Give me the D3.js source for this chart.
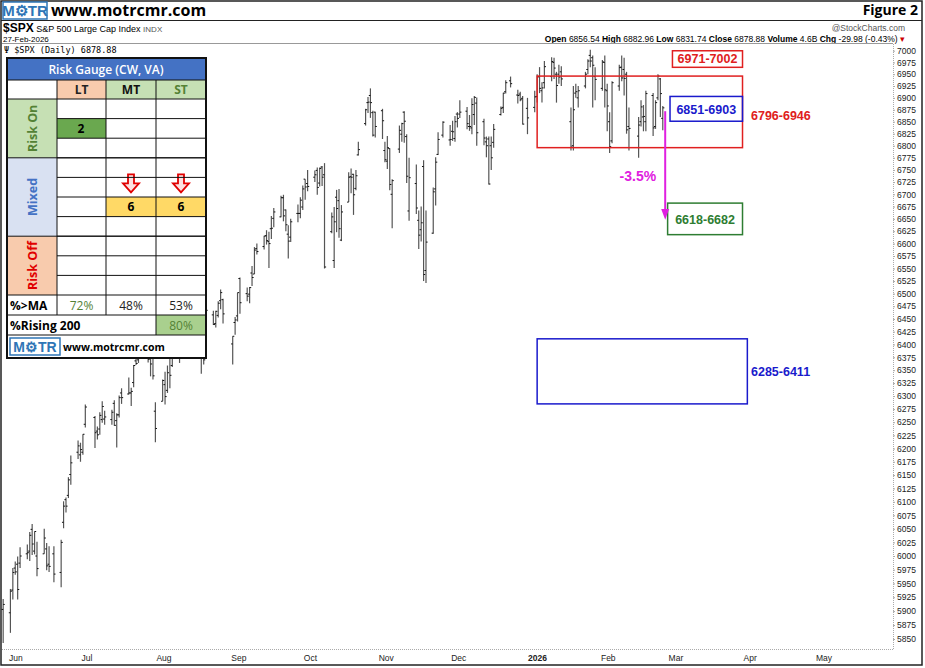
<!DOCTYPE html>
<html><head><meta charset="utf-8">
<script src="https://cdn.jsdelivr.net/npm/d3@7/dist/d3.min.js"></script>
<style>body{margin:0;background:#fff}svg{display:block}</style>
</head><body><svg id="c" width="925" height="668"></svg>
<script>
const dates=["2025-05-30","2025-06-02","2025-06-03","2025-06-04","2025-06-05","2025-06-06","2025-06-09","2025-06-10","2025-06-11","2025-06-12","2025-06-13","2025-06-16","2025-06-17","2025-06-18","2025-06-20","2025-06-23","2025-06-24","2025-06-25","2025-06-26","2025-06-27","2025-06-30",
"2025-07-01","2025-07-02","2025-07-03","2025-07-07","2025-07-08","2025-07-09","2025-07-10","2025-07-11","2025-07-14","2025-07-15","2025-07-16","2025-07-17","2025-07-18","2025-07-21","2025-07-22","2025-07-23","2025-07-24","2025-07-25","2025-07-28","2025-07-29","2025-07-30","2025-07-31",
"2025-08-01","2025-08-04","2025-08-05","2025-08-06","2025-08-07","2025-08-08","2025-08-11","2025-08-12","2025-08-13","2025-08-14","2025-08-15","2025-08-18","2025-08-19","2025-08-20","2025-08-21","2025-08-22","2025-08-25","2025-08-26","2025-08-27","2025-08-28","2025-08-29",
"2025-09-02","2025-09-03","2025-09-04","2025-09-05","2025-09-08","2025-09-09","2025-09-10","2025-09-11","2025-09-12","2025-09-15","2025-09-16","2025-09-17","2025-09-18","2025-09-19","2025-09-22","2025-09-23","2025-09-24","2025-09-25","2025-09-26","2025-09-29","2025-09-30",
"2025-10-01","2025-10-02","2025-10-03","2025-10-06","2025-10-07","2025-10-08","2025-10-09","2025-10-10","2025-10-13","2025-10-14","2025-10-15","2025-10-16","2025-10-17","2025-10-20","2025-10-21","2025-10-22","2025-10-23","2025-10-24","2025-10-27","2025-10-28","2025-10-29","2025-10-30","2025-10-31",
"2025-11-03","2025-11-04","2025-11-05","2025-11-06","2025-11-07","2025-11-10","2025-11-11","2025-11-12","2025-11-13","2025-11-14","2025-11-17","2025-11-18","2025-11-19","2025-11-20","2025-11-21","2025-11-24","2025-11-25","2025-11-26","2025-11-28",
"2025-12-01","2025-12-02","2025-12-03","2025-12-04","2025-12-05","2025-12-08","2025-12-09","2025-12-10","2025-12-11","2025-12-12","2025-12-15","2025-12-16","2025-12-17","2025-12-18","2025-12-19","2025-12-22","2025-12-23","2025-12-24","2025-12-26","2025-12-29","2025-12-30","2025-12-31",
"2026-01-02","2026-01-05","2026-01-06","2026-01-07","2026-01-08","2026-01-09","2026-01-12","2026-01-13","2026-01-14","2026-01-15","2026-01-16","2026-01-20","2026-01-21","2026-01-22","2026-01-23","2026-01-26","2026-01-27","2026-01-28","2026-01-29","2026-01-30",
"2026-02-02","2026-02-03","2026-02-04","2026-02-05","2026-02-06","2026-02-09","2026-02-10","2026-02-11","2026-02-12","2026-02-13","2026-02-17","2026-02-18","2026-02-19","2026-02-20","2026-02-23","2026-02-24","2026-02-25","2026-02-26","2026-02-27"];
const opens=[5903,5897,5938,5978,5985,5987,6004,6009,6049,6009,6000,6004,6013,5985,6004,5970,6062,6104,6112,6151,6193,
6188,6193,6246,6259,6233,6237,6255,6256,6255,6286,6253,6264,6306,6304,6306,6326,6368,6370,6397,6399,6376,6428,
6271,6290,6322,6311,6374,6359,6389,6395,6459,6451,6478,6445,6446,6408,6386,6386,6458,6441,6457,6486,6488,
6401,6443,6456,6530,6500,6499,6541,6539,6590,6594,6616,6604,6630,6651,6654,6693,6668,6619,6613,6661,6661,
6674,6731,6722,6735,6749,6723,6756,6740,6624,6566,6694,6687,6607,6684,6736,6741,6712,6781,6846,6890,6905,6869,6870,
6873,6790,6768,6794,6700,6793,6824,6870,6819,6666,6722,6647,6628,6757,6546,6621,6711,6782,6822,
6812,6830,6815,6866,6866,6872,6840,6837,6865,6889,6850,6808,6814,6800,6807,6865,6880,6913,6936,6906,6908,6899,
6878,6880,6903,6945,6915,6932,6945,6975,6950,6950,6955,6850,6800,6910,6900,6925,6960,6990,6985,6945,
6920,6975,6915,6850,6810,6925,6965,6960,6950,6840,6820,6850,6860,6850,6905,6840,6900,6940,6857];
const highs=[5922,5940,5978,5990,5999,6016,6021,6044,6059,6045,6026,6050,6024,6018,6018,6030,6101,6108,6146,6187,6215,
6211,6227,6284,6262,6242,6269,6290,6272,6274,6292,6267,6301,6315,6336,6316,6360,6381,6390,6397,6409,6394,6428,
6288,6332,6347,6359,6382,6395,6403,6446,6481,6476,6481,6458,6456,6409,6394,6478,6466,6466,6485,6508,6490,
6416,6454,6502,6532,6512,6513,6555,6593,6600,6616,6627,6624,6656,6672,6697,6699,6669,6637,6650,6679,6694,
6718,6731,6750,6749,6755,6755,6758,6764,6663,6674,6709,6711,6678,6745,6753,6742,6750,6808,6877,6902,6920,6873,6871,
6877,6808,6820,6795,6731,6842,6848,6872,6824,6775,6761,6667,6675,6770,6667,6714,6776,6828,6851,
6843,6852,6862,6870,6895,6881,6864,6899,6904,6901,6856,6819,6819,6819,6845,6882,6911,6937,6945,6917,6913,6904,
6900,6915,6950,6965,6933,6978,6986,6985,6955,6970,6967,6880,6925,6930,6925,6955,6982,7002,6990,6965,
6980,6990,6930,6870,6935,6970,6990,6985,6955,6880,6860,6895,6885,6915,6910,6895,6950,6942,6883];
const lows=[5843,5861,5921,5966,5921,5978,5994,5991,6002,6003,5963,6004,5974,5971,5952,5943,6051,6080,6107,6132,6180,
6175,6188,6240,6201,6217,6226,6249,6245,6245,6243,6202,6259,6285,6303,6281,6317,6360,6364,6376,6365,6338,6332,
6212,6290,6284,6306,6315,6356,6364,6386,6445,6441,6441,6430,6402,6343,6361,6375,6438,6433,6453,6469,6441,
6361,6419,6445,6460,6485,6481,6515,6539,6578,6588,6598,6551,6609,6633,6653,6645,6625,6570,6603,6643,6651,
6668,6689,6706,6725,6699,6716,6717,6550,6621,6551,6623,6612,6605,6684,6702,6658,6708,6780,6842,6868,6858,6819,6817,
6814,6766,6752,6708,6631,6785,6808,6806,6723,6646,6660,6589,6604,6525,6521,6620,6677,6781,6817,
6800,6810,6808,6838,6858,6834,6831,6824,6843,6800,6801,6776,6720,6750,6796,6863,6868,6909,6922,6888,6893,6844,
6824,6870,6890,6910,6890,6920,6935,6940,6890,6930,6925,6790,6790,6900,6880,6920,6950,6965,6880,6895,
6915,6880,6830,6785,6805,6915,6935,6905,6825,6790,6775,6840,6830,6830,6820,6835,6895,6860,6832];
const closes=[5912,5936,5970,5971,5939,6000,6006,6038,6022,6045,5977,6033,5982,5981,5967,6025,6092,6092,6141,6173,6205,
6198,6227,6279,6230,6226,6263,6280,6260,6269,6244,6264,6297,6297,6306,6309,6359,6363,6389,6390,6371,6362,6339,
6238,6330,6299,6345,6340,6389,6374,6446,6466,6469,6450,6449,6412,6396,6370,6467,6439,6465,6481,6502,6460,
6416,6448,6502,6482,6495,6512,6532,6587,6584,6615,6606,6600,6631,6664,6693,6656,6638,6605,6644,6661,6688,
6711,6715,6716,6740,6714,6753,6735,6553,6654,6644,6671,6630,6664,6735,6735,6699,6738,6792,6875,6891,6890,6822,6840,
6852,6771,6796,6720,6728,6832,6846,6851,6737,6734,6672,6617,6642,6538,6603,6705,6766,6813,6849,
6813,6829,6850,6857,6870,6846,6840,6886,6901,6827,6816,6800,6721,6775,6834,6878,6910,6932,6930,6905,6896,6845,
6858,6902,6944,6920,6921,6966,6977,6963,6926,6944,6940,6797,6875,6913,6915,6950,6978,6978,6969,6939,
6976,6917,6883,6798,6932,6964,6942,6941,6833,6836,6843,6881,6861,6909,6837,6890,6946,6909,6879];
const yTicks=d3.range(5850,7001,25);
const monthLabels=[["2025-06-01","Jun"],["2025-07-01","Jul"],["2025-08-01","Aug"],["2025-09-01","Sep"],["2025-10-01","Oct"],["2025-11-01","Nov"],["2025-12-01","Dec"],["2026-01-01","2026"],["2026-02-01","Feb"],["2026-03-01","Mar"],["2026-04-01","Apr"],["2026-05-01","May"]];
const zones=[[6796,6946,"2026-01-06","2026-04-01","#e02020"],[6851,6903,"2026-03-02","2026-04-01","#1a1acc"],[6618,6682,"2026-03-01","2026-04-01","#2e7d32"],[6285,6411,"2026-01-06","2026-04-03","#1a1acc"]];
const gaugeCols=["LT","MT","ST"];
const gaugeGroups=[["Risk On",3,"#c6e0b4","#548235"],["Mixed",4,"#d9e1f2","#4472c4"],["Risk Off",3,"#f8cbad","#e00000"]];
const maValues=["72%","48%","53%"];
const rising200="80%";

const svg=d3.select("#c");
const P=d=>d3.timeParse("%Y-%m-%d")(d);
const x=d3.scaleTime().domain([P("2025-06-01"),P("2026-05-01")]).range([8,815]);
const y=d3.scaleLog().domain([7000,5850]).range([50.7,639]);
const F="Liberation Sans, Arial, sans-serif";

svg.append("rect").attr("x",1).attr("y",1).attr("width",921).attr("height",664).attr("fill","none").attr("stroke","#222").attr("stroke-width",1.5);
svg.append("rect").attr("x",3).attr("y",2).attr("width",44).attr("height",17).attr("fill","#fff").attr("stroke","#2e75b6").attr("stroke-width",1.5);
svg.append("text").attr("x",25).attr("y",16).attr("text-anchor","middle").attr("font-family",F).attr("font-weight","bold").attr("font-size",15).attr("fill","#2e75b6").text("M⚙TR");
svg.append("text").attr("x",51).attr("y",16).attr("font-family","Open Sans, sans-serif").attr("font-weight","bold").attr("font-size",16).text("www.motrcmr.com");
svg.append("text").attr("x",918).attr("y",15).attr("text-anchor","end").attr("font-family","Open Sans, sans-serif").attr("font-weight","bold").attr("font-size",14).text("Figure 2");
svg.append("line").attr("x1",1).attr("x2",922).attr("y1",20.5).attr("y2",20.5).attr("stroke","#222");
svg.append("text").attr("x",3).attr("y",32).attr("font-family",F).attr("font-size",9).html('<tspan font-weight="bold" font-size="12">$SPX</tspan> S&amp;P 500 Large Cap Index  <tspan fill="#555" font-size="8">INDX</tspan>');
svg.append("text").attr("x",3).attr("y",41.5).attr("font-family",F).attr("font-size",8).text("27-Feb-2026");
svg.append("text").attr("x",905).attr("y",31).attr("text-anchor","end").attr("font-family",F).attr("font-size",8.5).attr("fill","#555").text("@StockCharts.com");
svg.append("text").attr("x",905).attr("y",42).attr("text-anchor","end").attr("font-family",F).attr("font-size",8.5)
 .html('<tspan font-weight="bold">Open</tspan> 6856.54 <tspan font-weight="bold">High</tspan> 6882.96 <tspan font-weight="bold">Low</tspan> 6831.74 <tspan font-weight="bold">Close</tspan> 6878.88 <tspan font-weight="bold">Volume</tspan> 4.6B <tspan font-weight="bold">Chg</tspan> -29.98 (-0.43%) <tspan fill="#c00">▾</tspan>');
svg.append("line").attr("x1",2).attr("x2",893).attr("y1",43.5).attr("y2",43.5).attr("stroke","#999");
svg.append("text").attr("x",4).attr("y",53).attr("font-family","DejaVu Sans Mono, monospace").attr("font-size",8.5).text("Ψ $SPX (Daily) 6878.88");

svg.append("line").attr("x1",2).attr("x2",893).attr("y1",649.5).attr("y2",649.5).attr("stroke","#aaa").attr("stroke-dasharray","1,1");
svg.append("line").attr("x1",893.5).attr("x2",893.5).attr("y1",44).attr("y2",650).attr("stroke","#aaa").attr("stroke-dasharray","1,1");
const ya=svg.append("g").attr("transform","translate(893,0)").call(d3.axisRight(y).tickValues(yTicks).tickSize(2).tickFormat(d3.format("d")));
ya.select(".domain").remove();
ya.selectAll("text").attr("font-family",F).attr("font-size",8.5).attr("fill","#222").attr("x",4);
ya.selectAll("line").attr("stroke","#aaa");
svg.append("g").selectAll("text").data(monthLabels).join("text")
 .attr("x",d=>x(P(d[0]))+(d[1]==="2026"?3:1)).attr("y",661).attr("font-family",F).attr("font-size",8.5)
 .attr("font-weight",d=>d[1]==="2026"?"bold":null).attr("fill","#222").text(d=>d[1]);

const bars=dates.map((d,i)=>({t:P(d),o:opens[i],h:highs[i],l:lows[i],c:closes[i]}));
const g=svg.append("g");
g.selectAll("line.hl").data(bars).join("line").attr("x1",d=>x(d.t)).attr("x2",d=>x(d.t)).attr("y1",d=>y(d.h)).attr("y2",d=>y(d.l)).attr("stroke","#555").attr("stroke-width",1.2);
g.selectAll("line.o").data(bars).join("line").attr("x1",d=>x(d.t)-1.6).attr("x2",d=>x(d.t)).attr("y1",d=>y(d.o)).attr("y2",d=>y(d.o)).attr("stroke","#111").attr("stroke-width",1);
g.selectAll("line.c").data(bars).join("line").attr("x1",d=>x(d.t)).attr("x2",d=>x(d.t)+1.6).attr("y1",d=>y(d.c)).attr("y2",d=>y(d.c)).attr("stroke","#111").attr("stroke-width",1);

svg.append("g").selectAll("rect").data(zones).join("rect")
 .attr("x",d=>x(P(d[2]))).attr("width",d=>x(P(d[3]))-x(P(d[2]))).attr("y",d=>y(d[1])).attr("height",d=>y(d[0])-y(d[1]))
 .attr("fill","none").attr("stroke",d=>d[4]).attr("stroke-width",1.5);
const tb=(t,xx,yy,c,anchor)=>svg.append("text").attr("x",xx).attr("y",yy).attr("text-anchor",anchor||"start").attr("font-family",F).attr("font-weight","bold").attr("font-size",12.5).attr("fill",c).text(t);
svg.append("rect").attr("x",x(P("2026-03-03"))).attr("y",y(7002)+1).attr("width",x(P("2026-04-01"))-x(P("2026-03-03"))).attr("height",y(6971)-y(7002)+2).attr("fill","none").attr("stroke","#e02020").attr("stroke-width",1.5);
tb("6971-7002",(x(P("2026-03-03"))+x(P("2026-04-01")))/2,y(6975)+1,"#e02020","middle");
tb("6796-6946",751,y(6865)+5,"#e02020");
tb("6851-6903",(x(P("2026-03-02"))+x(P("2026-04-01")))/2,y(6877)+5,"#1a1acc","middle");
tb("6618-6682",(x(P("2026-03-01"))+x(P("2026-04-01")))/2,y(6650)+5,"#2e7d32","middle");
tb("6285-6411",751,y(6348)+5,"#1a1acc");
const ax=x(P("2026-02-28"));
svg.append("line").attr("x1",ax).attr("x2",ax).attr("y1",y(6872)).attr("y2",y(6665)).attr("stroke","#e020e0").attr("stroke-width",2);
svg.append("path").attr("d",`M${ax-4},${y(6670)} L${ax+4},${y(6670)} L${ax},${y(6648)} Z`).attr("fill","#e020e0");
tb("-3.5%",ax-9,y(6738)+5,"#e020e0","end").attr("font-size",14);

const T=svg.append("g");
const cx=[7,57,106,156,206];
const TF="Open Sans, sans-serif";
T.append("rect").attr("x",6).attr("y",57).attr("width",201).attr("height",300).attr("fill","#fff");
T.append("rect").attr("x",7).attr("y",58).attr("width",199).attr("height",22).attr("fill","#4472c4");
T.append("text").attr("x",106).attr("y",74).attr("text-anchor","middle").attr("font-family",TF).attr("font-weight","600").attr("font-size",12).attr("fill","#fff").text("Risk Gauge (CW, VA)");
const hdrBg=["#f8cbad","#c6e0b4","#c6e0b4"],hdrFg=["#222","#111","#548235"];
gaugeCols.forEach((c,i)=>{T.append("rect").attr("x",cx[i+1]).attr("y",80).attr("width",cx[i+2]-cx[i+1]).attr("height",19).attr("fill",hdrBg[i]);
 T.append("text").attr("x",(cx[i+1]+cx[i+2])/2).attr("y",94).attr("text-anchor","middle").attr("font-family",TF).attr("font-weight","bold").attr("font-size",12).attr("fill",hdrFg[i]).text(c);});
let ry=99;const rh=19.6;const rowsY=[];
gaugeGroups.forEach(gr=>{const h=gr[1]*rh;
 T.append("rect").attr("x",7).attr("y",ry).attr("width",50).attr("height",h).attr("fill",gr[2]);
 T.append("text").attr("transform",`translate(37,${ry+h/2}) rotate(-90)`).attr("text-anchor","middle").attr("font-family",TF).attr("font-weight","bold").attr("font-size",12.5).attr("fill",gr[3]).text(gr[0]);
 for(let k=0;k<gr[1];k++)rowsY.push(ry+k*rh);
 ry+=h;});
T.append("rect").attr("x",57).attr("y",rowsY[1]).attr("width",49).attr("height",rh).attr("fill","#6aa84f");
T.append("text").attr("x",81).attr("y",rowsY[1]+14).attr("text-anchor","middle").attr("font-family",TF).attr("font-weight","bold").attr("font-size",12).text("2");
[1,2].forEach(ci=>{T.append("rect").attr("x",cx[ci+1]).attr("y",rowsY[5]).attr("width",cx[ci+2]-cx[ci+1]).attr("height",rh).attr("fill","#ffd966");
 T.append("text").attr("x",(cx[ci+1]+cx[ci+2])/2).attr("y",rowsY[5]+14).attr("text-anchor","middle").attr("font-family",TF).attr("font-weight","bold").attr("font-size",12).text("6");
 const m=(cx[ci+1]+cx[ci+2])/2,t=rowsY[4]-3;
 T.append("path").attr("d",`M${m-3},${t} h6 v9 h5 l-8,9 l-8,-9 h5 Z`).attr("fill","#fde0e0").attr("stroke","#e00000").attr("stroke-width",1.8);});
const yMA=ry,yR=ry+20,yL=ry+40;
T.append("text").attr("x",10).attr("y",yMA+15).attr("font-family",TF).attr("font-weight","bold").attr("font-size",12).text("%>MA");
maValues.forEach((v,i)=>T.append("text").attr("x",(cx[i+1]+cx[i+2])/2).attr("y",yMA+15).attr("text-anchor","middle").attr("font-family",TF).attr("font-size",12).attr("fill",i===0?"#548235":"#222").text(v));
T.append("rect").attr("x",156).attr("y",yR).attr("width",50).attr("height",20).attr("fill","#a9d08e");
T.append("text").attr("x",10).attr("y",yR+15).attr("font-family",TF).attr("font-weight","bold").attr("font-size",12).text("%Rising 200");
T.append("text").attr("x",181).attr("y",yR+15).attr("text-anchor","middle").attr("font-family",TF).attr("font-size",12).attr("fill","#548235").text(rising200);
const gl=(x1,y1,x2,y2,w)=>T.append("line").attr("x1",x1).attr("y1",y1).attr("x2",x2).attr("y2",y2).attr("stroke","#111").attr("stroke-width",w||1);
gl(7,80,206,80);gl(7,99,206,99);
rowsY.forEach((r,k)=>{if(k>0)gl(57,r,206,r);});
[3,7].forEach(k=>gl(7,rowsY[k],206,rowsY[k]));
gl(7,yMA,206,yMA);gl(7,yR,206,yR);gl(7,yL,206,yL);
[57,106,156].forEach(c=>gl(c,80,c,yR));gl(156,yR,156,yL);
T.append("rect").attr("x",10).attr("y",yL+3).attr("width",50).attr("height",17).attr("fill","#fff").attr("stroke","#2e75b6").attr("stroke-width",1.5);
T.append("text").attr("x",35).attr("y",yL+17).attr("text-anchor","middle").attr("font-family",F).attr("font-weight","bold").attr("font-size",14).attr("fill","#2e75b6").text("M⚙TR");
T.append("text").attr("x",63).attr("y",yL+16).attr("font-family",TF).attr("font-weight","bold").attr("font-size",10.5).text("www.motrcmr.com");
T.append("rect").attr("x",7).attr("y",58).attr("width",199).attr("height",yL+23-58).attr("fill","none").attr("stroke","#111").attr("stroke-width",2);
</script></body></html>
